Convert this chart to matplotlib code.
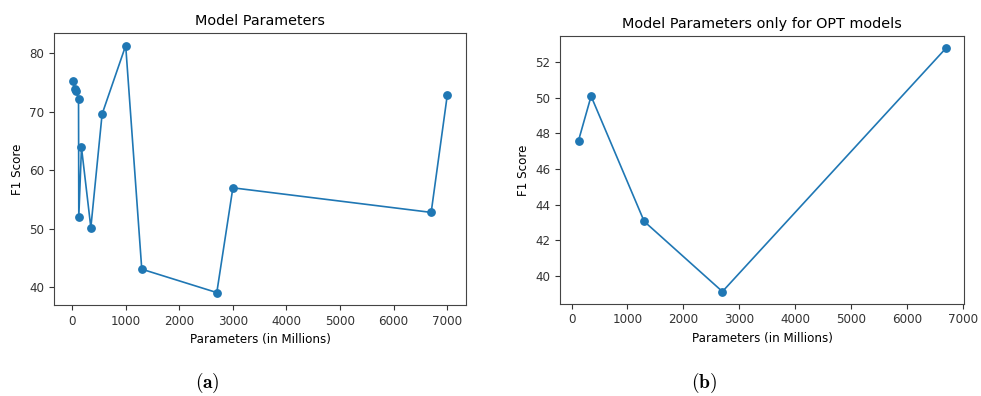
import matplotlib.pyplot as plt

# Todos os modelos
params_all = [11, 50, 80, 120, 125, 175, 350, 560, 1000, 1300, 2700, 3000, 6700, 7000]
f1_all = [75.3, 73.9, 73.6, 72.2, 52.0, 63.9, 50.2, 69.6, 81.3, 43.1, 39.1, 57.0, 52.8, 72.8]

# Apenas modelos OPT
params_opt = [125, 350, 1300, 2700, 6700]
f1_opt = [47.6, 50.1, 43.05, 39.1, 52.8]

plt.rcParams['font.size'] = 8.6
plt.rcParams['mathtext.fontset'] = 'cm'

fig = plt.figure(figsize=(9.81, 3.96), dpi=100)
ax1 = fig.add_axes([0.055, 0.230, 0.420, 0.686])
ax2 = fig.add_axes([0.571, 0.233, 0.412, 0.676])

ax1.plot(params_all, f1_all, marker='o', markersize=5.3, linewidth=1.2)
ax1.set_title("Model Parameters", fontsize=10.4)
ax1.set_xlabel("Parameters (in Millions)")
ax1.set_ylabel("F1 Score")
ax1.set_yticks([40, 50, 60, 70, 80])

ax2.plot(params_opt, f1_opt, marker='o', markersize=5.3, linewidth=1.2)
ax2.set_title("Model Parameters only for OPT models", fontsize=10.4)
ax2.set_xlabel("Parameters (in Millions)")
ax2.set_ylabel("F1 Score")
ax2.set_yticks([40, 42, 44, 46, 48, 50, 52])

for ax in (ax1, ax2):
    for s in ax.spines.values():
        s.set_color('#444444')
    ax.tick_params(colors='#333333', length=3.5)

fig.text(0.211, 0.033, r"$(\mathbf{a})$", ha='center', va='center', fontsize=14)
fig.text(0.718, 0.033, r"$(\mathbf{b})$", ha='center', va='center', fontsize=14)

fig.savefig("out.png", dpi=100)
